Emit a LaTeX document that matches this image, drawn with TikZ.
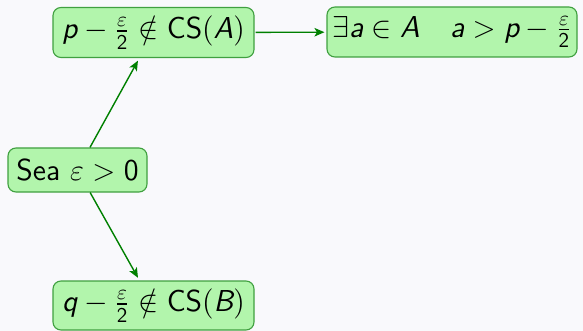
\documentclass[tikz,border=0pt]{standalone}
\usepackage{amsmath,amssymb,graphicx}
\usetikzlibrary{arrows.meta}
\definecolor{bgpaper}{RGB}{249,249,252}
\definecolor{boxfill}{RGB}{178,245,172}
\definecolor{boxline}{RGB}{64,160,64}
\definecolor{arrowgreen}{RGB}{0,128,0}
% sans italic variables, as in a beamer slide
\newcommand{\sv}[1]{\textsf{\itshape #1}}
\newcommand{\sn}[1]{\textsf{#1}}
% enlarged label text (math fonts scale with it)
\newcommand{\bigtext}[1]{\scalebox{2.1}{\Large #1}}
\tikzset{
  mathbox/.style={draw=boxline, fill=boxfill, line width=1.1pt, rounded corners=8pt,
    inner sep=0pt, minimum height=50pt},
  link/.style={draw=arrowgreen, line width=1.4pt, -{Stealth[length=10pt,width=8.5pt,inset=2.5pt]}}
}
\begin{document}
\begin{tikzpicture}[x=1pt,y=-1pt]
  \fill[bgpaper] (0,0) rectangle (583,331);
  \useasboundingbox (0,0) rectangle (583,331);
  \node[mathbox, minimum width=201pt] (pa) at (153.5,32.5)
    {\bigtext{$\sv{p}-\frac{\varepsilon}{\sn{2}}\notin\sn{CS}(\sv{A})$}};
  \node[mathbox, minimum width=250pt] (ex) at (452,32)
    {\bigtext{$\exists\sv{a}\in\sv{A}\quad\sv{a}>\sv{p}-\frac{\varepsilon}{\sn{2}}$}};
  \node[mathbox, minimum width=139pt, minimum height=44pt] (sea) at (77.5,170)
    {\bigtext{\sn{Sea} $\varepsilon>\sn{0}$}};
  \node[mathbox, minimum width=201pt, minimum height=49pt] (qb) at (153.5,305.5)
    {\bigtext{$\sv{q}-\frac{\varepsilon}{\sn{2}}\notin\sn{CS}(\sv{B})$}};
  \draw[link, shorten >=3pt] (sea) -- (pa);
  \draw[link, shorten >=3pt] (sea) -- (qb);
  \draw[link, shorten >=2pt, shorten <=1pt] (pa) -- (ex);
\end{tikzpicture}
\end{document}
